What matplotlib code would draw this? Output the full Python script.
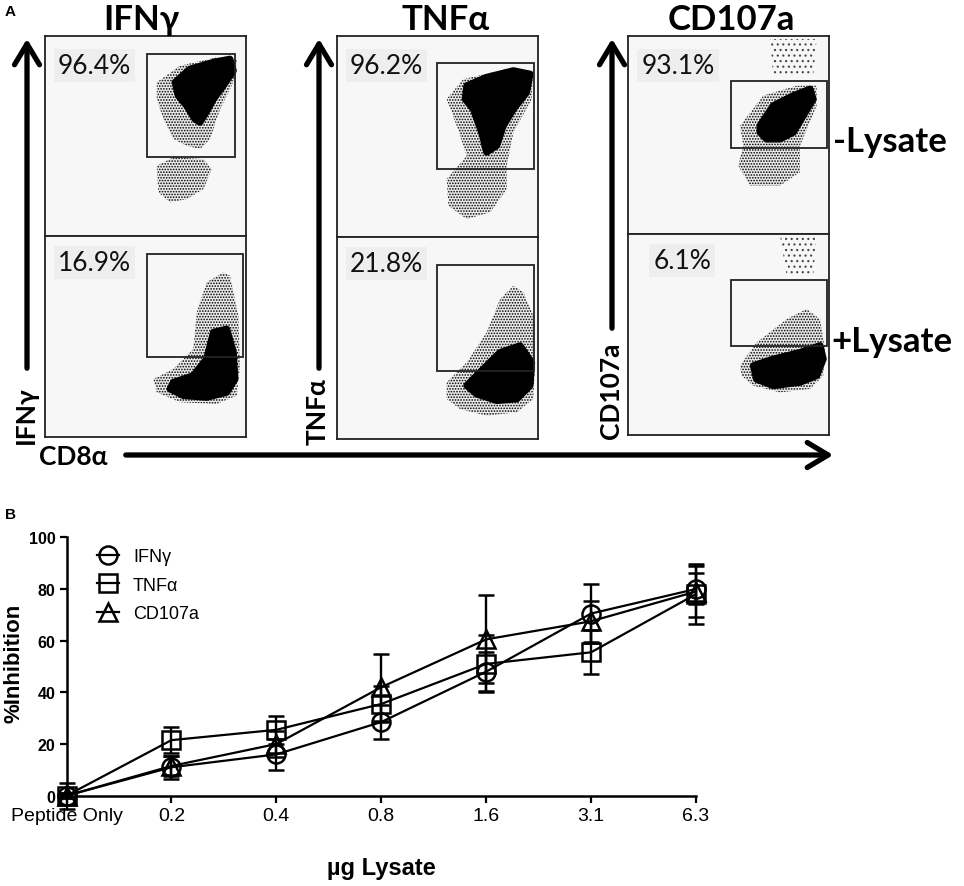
import matplotlib
matplotlib.use("Agg")
import matplotlib.pyplot as plt
from matplotlib.patches import Polygon, Rectangle, FancyArrowPatch

W, H = 964, 887

# ---------------- Panel B data ----------------
doses = ["Peptide Only", "0.2", "0.4", "0.8", "1.6", "3.1", "6.3"]
ifng_mean = [0, 11, 16, 28.5, 48, 70.5, 80]
ifng_sem = [1, 4.5, 6, 6.5, 7.5, 11.5, 6]
tnfa_mean = [0, 21.5, 25.5, 35.5, 51, 55.5, 78]
tnfa_sem = [1, 5, 5.5, 7, 11, 8.5, 11.5]
cd107_mean = [0, 11.5, 20, 42, 60.5, 67.5, 79]
cd107_sem = [5, 4, 5, 13, 17, 8, 10]
series_labels = ["IFN\u03b3", "TNF\u03b1", "CD107a"]
y_ticks = [0, 20, 40, 60, 80, 100]

# ---------------- Panel A data (channel units 0-1000) ----------------
markers_a = ["IFN\u03b3", "TNF\u03b1", "CD107a"]
pct_minus = ["96.4%", "96.2%", "93.1%"]
pct_plus = ["16.9%", "21.8%", "6.1%"]

ifng_gate_minus = (506, 392, 947, 908)
ifng_gate_plus = (506, 400, 987, 909)
tnfa_gate_minus = (501, 337, 983, 864)
tnfa_gate_plus = (501, 334, 983, 862)
cd107_gate_minus = (511, 434, 987, 770)
cd107_gate_plus = (511, 440, 987, 771)

IFNG_MINUS_HALO = [(556, 767), (672, 850), (854, 892), (954, 883), (945, 783), (871, 633), (821, 483),
                   (771, 433), (705, 450), (639, 483), (589, 583), (556, 683)]
IFNG_MINUS_LOW = [(556, 350), (639, 392), (788, 383), (829, 333), (788, 233), (705, 183), (622, 167), (564, 217)]
IFNG_MINUS_CORE = [(647, 767), (721, 833), (838, 867), (920, 883), (937, 825), (887, 750), (838, 683),
                   (796, 608), (771, 567), (746, 583), (705, 650), (663, 700)]

IFNG_PLUS_HALO = [(539, 289), (639, 339), (738, 438), (755, 620), (804, 769), (887, 818), (920, 802),
                  (962, 603), (970, 355), (954, 207), (854, 165), (672, 174), (556, 223)]
IFNG_PLUS_CORE = [(639, 273), (738, 306), (804, 388), (838, 521), (904, 537), (937, 422), (945, 289),
                  (904, 223), (804, 198), (688, 207), (622, 240)]

TNFA_MINUS_HALO = [(547, 685), (630, 784), (846, 834), (978, 826), (970, 685), (879, 519), (846, 353),
                   (846, 237), (763, 121), (647, 88), (556, 154), (547, 287), (647, 403), (597, 552)]
TNFA_MINUS_CORE = [(647, 751), (746, 793), (879, 826), (962, 809), (945, 718), (879, 635), (829, 552),
                   (796, 453), (746, 420), (721, 519), (680, 635), (639, 685)]

TNFA_PLUS_HALO = [(547, 280), (647, 379), (746, 527), (813, 692), (879, 758), (929, 725), (978, 610),
                  (987, 362), (978, 198), (896, 132), (746, 115), (614, 148), (547, 198)]
TNFA_PLUS_CORE = [(713, 330), (813, 428), (912, 461), (970, 379), (962, 264), (896, 198), (796, 190),
                  (697, 222), (647, 264)]

CD107_MINUS_HALO = [(556, 546), (672, 698), (838, 748), (937, 748), (937, 647), (854, 445), (854, 311),
                    (755, 244), (605, 244), (547, 345), (572, 445)]
CD107_MINUS_CORE = [(655, 546), (721, 647), (821, 698), (904, 731), (920, 681), (871, 597), (821, 513),
                    (755, 479), (688, 479), (655, 513)]
CD107_MINUS_TOP = [(705, 983), (937, 983), (920, 798), (721, 798)]

CD107_PLUS_HALO = [(556, 344), (639, 460), (788, 576), (887, 626), (954, 576), (978, 427), (970, 294),
                   (904, 228), (755, 211), (622, 244), (564, 294)]
CD107_PLUS_CORE = [(622, 344), (721, 377), (854, 410), (954, 444), (970, 377), (937, 294), (854, 261),
                   (721, 244), (638, 277)]
CD107_PLUS_TOP = [(755, 992), (937, 992), (920, 792), (788, 792)]

plt.rcParams['hatch.linewidth'] = 0.8
plt.rcParams['hatch.color'] = 'black'

fig = plt.figure(figsize=(W / 100, H / 100), dpi=100)
fig.patch.set_facecolor('white')


def px(x, y):
    return (x / W, 1 - y / H)


def rect_px(left, top, right, bottom):
    return [left / W, 1 - bottom / H, (right - left) / W, (bottom - top) / H]


FONT_A = ['Lato', 'DejaVu Sans']


def flow_axes(rect, gate, halos, sparse, cores, pct, pct_x, pct_y):
    ax = fig.add_axes(rect)
    ax.set_xlim(0, 1000)
    ax.set_ylim(0, 1000)
    ax.set_facecolor('#f7f7f7')
    ax.set_xticks([])
    ax.set_yticks([])
    for s in ax.spines.values():
        s.set_linewidth(1.3)
        s.set_color('#222222')
    for poly in sparse:
        ax.add_patch(Polygon(poly, closed=True, facecolor='none', edgecolor='#444444', lw=0, hatch='...'))
    for poly in halos:
        ax.add_patch(Polygon(poly, closed=True, facecolor='#ebebeb', edgecolor='black', lw=0,
                             hatch='......'))
    for poly in cores:
        ax.add_patch(Polygon(poly, closed=True, facecolor='black', edgecolor='black', lw=5,
                             joinstyle='round'))
    x0, y0, x1, y1 = gate
    ax.add_patch(Rectangle((x0, y0), x1 - x0, y1 - y0, fill=False, edgecolor='#222222', lw=1.3))
    ax.text(pct_x, pct_y, pct, ha='left', va='center', fontsize=19, family=FONT_A, color='#111111',
            bbox=dict(boxstyle='square,pad=0.15', facecolor='#eeeeee', edgecolor='none'))
    return ax


# column boxes (pixels): left, top, mid, right, bottom
cols = [(45, 36.7, 236.7, 246, 438.3), (336.7, 36.7, 237.7, 537.7, 440), (628.3, 36.7, 235, 829.3, 435.7)]
gates_minus = [ifng_gate_minus, tnfa_gate_minus, cd107_gate_minus]
gates_plus = [ifng_gate_plus, tnfa_gate_plus, cd107_gate_plus]
halos_minus = [[IFNG_MINUS_HALO, IFNG_MINUS_LOW], [TNFA_MINUS_HALO], [CD107_MINUS_HALO]]
halos_plus = [[IFNG_PLUS_HALO], [TNFA_PLUS_HALO], [CD107_PLUS_HALO]]
sparse_minus = [[], [], [CD107_MINUS_TOP]]
sparse_plus = [[], [], [CD107_PLUS_TOP]]
cores_minus = [[IFNG_MINUS_CORE], [TNFA_MINUS_CORE], [CD107_MINUS_CORE]]
cores_plus = [[IFNG_PLUS_CORE], [TNFA_PLUS_CORE], [CD107_PLUS_CORE]]
pct_xs_plus = [65, 65, 124]

for i, (l, t, m, r, b) in enumerate(cols):
    flow_axes(rect_px(l, t, r, m), gates_minus[i], halos_minus[i], sparse_minus[i], cores_minus[i],
              pct_minus[i], 65, 852)
    flow_axes(rect_px(l, m, r, b), gates_plus[i], halos_plus[i], sparse_plus[i], cores_plus[i],
              pct_plus[i], pct_xs_plus[i], 866)

# titles
title_x = [141, 446, 731]
for tx, name in zip(title_x, markers_a):
    fig.text(*px(tx, 30), name, ha='center', va='baseline', fontsize=25, fontweight='bold', family=FONT_A)

# vertical arrows + labels
arrow_specs = [(27, 372, 415), (319, 372, 412), (612, 332, 391)]
ARROW = '->,head_length=0.5,head_width=0.3'
for (ax_x, y_bot, lab_y), name in zip(arrow_specs, markers_a):
    fig.add_artist(FancyArrowPatch(px(ax_x, y_bot), px(ax_x, 37), transform=fig.transFigure,
                                   arrowstyle=ARROW, mutation_scale=30, lw=3.8, color='black'))
    fig.text(*px(ax_x - 1, lab_y), name, rotation=90, ha='center', va='center', fontsize=19,
             fontweight='bold', family=FONT_A)

# horizontal arrow
fig.add_artist(FancyArrowPatch(px(123, 456), px(836, 456), transform=fig.transFigure,
                               arrowstyle=ARROW, mutation_scale=30, lw=3.8, color='black'))
fig.text(*px(73, 457), "CD8\u03b1", ha='center', va='center', fontsize=19, fontweight='bold', family=FONT_A)

# Lysate labels
fig.text(*px(833, 152), "-Lysate", ha='left', va='baseline', fontsize=25, fontweight='bold', family=FONT_A)
fig.text(*px(831, 352), "+Lysate", ha='left', va='baseline', fontsize=25, fontweight='bold', family=FONT_A)

fig.text(*px(5, 12), "A", ha='left', va='center', fontsize=11, fontweight='bold', family='Liberation Sans')
fig.text(*px(5, 515), "B", ha='left', va='center', fontsize=11, fontweight='bold', family='Liberation Sans')

# ---------------- Panel B ----------------
FONT_B = 'Liberation Sans'
axB = fig.add_axes(rect_px(66.5, 538.3, 696, 796.7))
xs = list(range(len(doses)))
conts = []
for mean, sem, mk, lab in zip([ifng_mean, tnfa_mean, cd107_mean], [ifng_sem, tnfa_sem, cd107_sem],
                              ['o', 's', '^'], series_labels):
    c = axB.errorbar(xs, mean, yerr=sem, marker=mk, ms=13, mfc='none', mec='black', mew=1.8,
                     color='black', lw=1.6, capsize=6, capthick=1.7, elinewidth=1.7, label=lab)
    for art in c.get_children():
        art.set_clip_on(False)
    conts.append(c)

axB.set_xlim(0, 6)
axB.set_ylim(0, 100)
axB.set_xticks(xs)
axB.set_xticklabels(doses, fontsize=14, family=FONT_B)
axB.set_yticks(y_ticks)
axB.set_yticklabels([str(v) for v in y_ticks], fontsize=11.5, fontweight='bold', family=FONT_B)
for s in ['top', 'right']:
    axB.spines[s].set_visible(False)
for s in ['left', 'bottom']:
    axB.spines[s].set_linewidth(1.8)
axB.tick_params(axis='both', width=1.6, length=5, pad=3)
axB.set_facecolor('none')

axB.set_ylabel("%Inhibition", fontsize=16, fontweight='bold', family=FONT_B, labelpad=8)
axB.yaxis.set_label_coords(-(66.5 - 14) / 629.5, (796.7 - 663) / 258.4)
axB.set_xlabel("\u00b5g Lysate", fontsize=17, fontweight='bold', family=FONT_B)
axB.xaxis.set_label_coords((381 - 66.5) / 629.5, -(868 - 796.7) / 258.4)
axB.xaxis.label.set_va('center')
axB.yaxis.label.set_va('center')

leg = axB.legend(handles=[c[0] for c in conts], labels=series_labels, loc='upper left',
                 bbox_to_anchor=((97 - 66.5) / 629.5, (796.7 - 549) / 258.4), frameon=False,
                 handlelength=1.2, handletextpad=0.8, labelspacing=0.65, borderpad=0, borderaxespad=0,
                 prop={'family': FONT_B, 'size': 13})

fig.savefig("out.png", dpi=100, facecolor='white')
